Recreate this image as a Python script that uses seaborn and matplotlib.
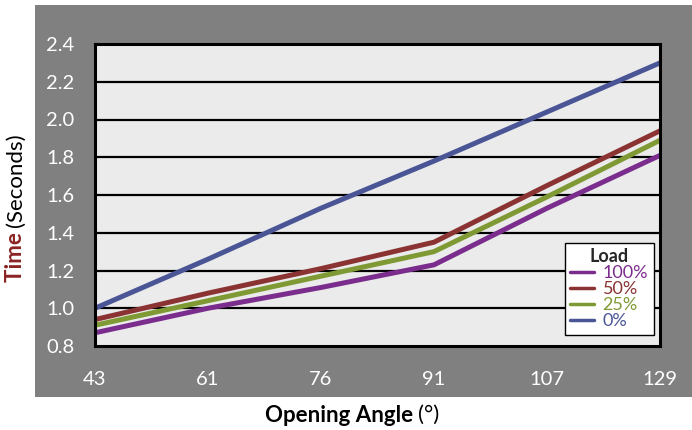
import matplotlib
matplotlib.use("Agg")
import matplotlib.pyplot as plt
import seaborn as sns
import pandas as pd
from matplotlib.lines import Line2D

angles = ["43", "61", "76", "91", "107", "129"]
load_100 = [0.87, 1.00, 1.11, 1.23, 1.53, 1.81]
load_50 = [0.94, 1.08, 1.21, 1.35, 1.65, 1.94]
load_25 = [0.91, 1.04, 1.17, 1.30, 1.59, 1.89]
load_0 = [1.00, 1.26, 1.53, 1.78, 2.04, 2.30]
series_names = ["100%", "50%", "25%", "0%"]
colors = ["#7B2D8E", "#8B3333", "#7F9A34", "#4A5596"]
yticks = [0.8, 1.0, 1.2, 1.4, 1.6, 1.8, 2.0, 2.2, 2.4]

rows = []
for name, vals in zip(series_names, [load_100, load_50, load_25, load_0]):
    for a, v in zip(angles, vals):
        rows.append({"Angle": a, "Time": v, "Load": name})
df = pd.DataFrame(rows)
df["x"] = df["Angle"].map({a: i for i, a in enumerate(angles)})

sns.set_style("white")
plt.rcParams["font.family"] = ["Lato", "DejaVu Sans"]

W, H = 692, 430
fig = plt.figure(figsize=(W / 100, H / 100), dpi=100)
fig.patch.set_facecolor("white")

bg = fig.add_axes([35 / W, 1 - 397 / H, (W - 35) / W, (397 - 5) / H], zorder=0)
bg.set_facecolor("#808080")
bg.set_xticks([])
bg.set_yticks([])
for s in bg.spines.values():
    s.set_visible(False)

ax = fig.add_axes([95 / W, (H - 346) / H, (660 - 95) / W, (346 - 44) / H], zorder=2)
ax.set_facecolor("#EBEBEB")

sns.lineplot(data=df, x="x", y="Time", hue="Load", hue_order=series_names,
             palette=colors, linewidth=3.6, ax=ax, legend=False)

ax.set_xlim(0, len(angles) - 1)
ax.set_ylim(0.8, 2.4)
ax.set_xticks(range(len(angles)))
ax.set_xticklabels(angles)
ax.set_yticks(yticks)
ax.set_yticklabels([f"{t:.1f}" for t in yticks])
for t in yticks[1:-1]:
    ax.axhline(t, color="black", linewidth=1.6, zorder=1)
for s in ax.spines.values():
    s.set_color("black")
    s.set_linewidth(2.2)
    s.set_visible(True)
ax.tick_params(axis="both", direction="out", length=7, width=1.2, color="black",
               labelcolor="white", labelsize=14.5)
ax.tick_params(axis="x", pad=11)
ax.tick_params(axis="y", pad=8)
ax.set_xlabel("")
ax.set_ylabel("")

handles = [Line2D([0], [0], color=c, linewidth=2.5) for c in colors]
leg = ax.legend(handles, series_names, title="Load", loc="lower right",
                bbox_to_anchor=(0.995, 0.025), frameon=True, fancybox=False,
                framealpha=1, edgecolor="black", fontsize=13, handlelength=1.3,
                handletextpad=0.5, labelspacing=0.0, borderpad=0.3,
                borderaxespad=0.2)
leg.get_frame().set_linewidth(1.0)
leg.get_title().set_fontweight("bold")
leg.get_title().set_fontsize(13)
for txt, c in zip(leg.get_texts(), colors):
    txt.set_color(c)

renderer = fig.canvas.get_renderer()
fs = 16
# X label: two parts, chained
t1 = fig.text(0, 0, "Opening Angle ", fontsize=fs, fontweight="bold", color="black")
t2 = fig.text(0, 0, "(°)", fontsize=fs, color="black")
w1 = t1.get_window_extent(renderer).width
w2 = t2.get_window_extent(renderer).width
cx, cy = 352, H - 415
x0 = cx - (w1 + w2) / 2
t1.set_position((x0 / W, cy / H)); t1.set_va("center")
t2.set_position(((x0 + w1) / W, cy / H)); t2.set_va("center")

# Y label: rotated two parts
s1 = fig.text(0, 0, "Time ", rotation=90, fontsize=fs, fontweight="bold", color="#8B2323")
s2 = fig.text(0, 0, "(Seconds)", rotation=90, fontsize=fs, color="black")
h1 = s1.get_window_extent(renderer).height
h2 = s2.get_window_extent(renderer).height
ccy = H - 208
y0 = ccy - (h1 + h2) / 2
s1.set_position((16 / W, y0 / H)); s1.set_ha("center"); s1.set_va("bottom")
s2.set_position((16 / W, (y0 + h1) / H)); s2.set_ha("center"); s2.set_va("bottom")

fig.savefig("out.png", dpi=100)
